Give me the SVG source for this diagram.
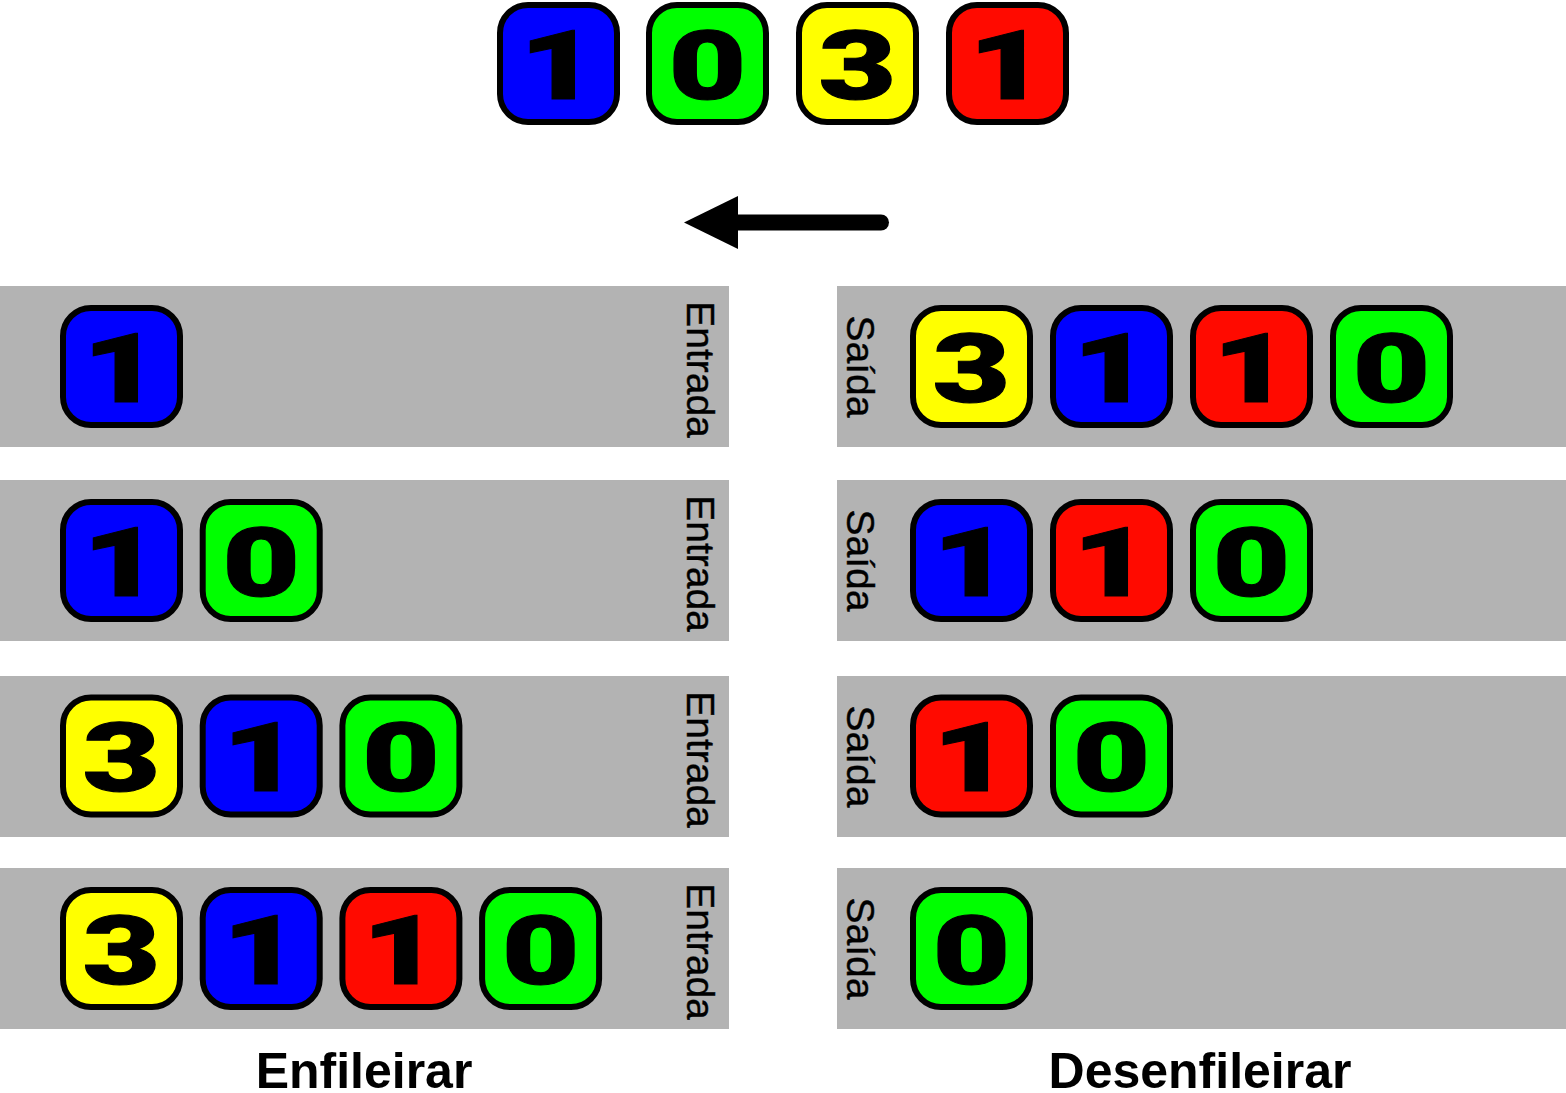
<svg xmlns="http://www.w3.org/2000/svg" width="1566" height="1093" viewBox="0 0 1566 1093">
<defs>
<style>
.band{fill:#b3b3b3}
.t{stroke:#000;stroke-width:6}
.b{fill:#0000ff}.g{fill:#00ff00}.y{fill:#ffff00}.r{fill:#ff0a00}
.d{font-family:Roboto,"Liberation Sans",Arial,sans-serif;font-weight:900;font-size:96px;text-anchor:middle;fill:#000;stroke:#000;stroke-width:1}
.lbl{font-family:"Liberation Sans",Arial,sans-serif;font-size:39px;text-anchor:middle;fill:#000;stroke:#000;stroke-width:0.4}
.cap{font-family:"Liberation Sans",Arial,sans-serif;font-weight:bold;font-size:50px;text-anchor:middle;fill:#000}
</style>
<g id="t1b"><rect class="t b" x="3" y="3" width="117" height="117" rx="28"/><text class="d" transform="translate(61.5,96.5) scale(1.4,1)">1</text></g>
<g id="t1r"><rect class="t r" x="3" y="3" width="117" height="117" rx="28"/><text class="d" transform="translate(61.5,96.5) scale(1.4,1)">1</text></g>
<g id="t0g"><rect class="t g" x="3" y="3" width="117" height="117" rx="28"/><text class="d" transform="translate(61.5,96.5) scale(1.4,1)">0</text></g>
<g id="t3y"><rect class="t y" x="3" y="3" width="117" height="117" rx="28"/><text class="d" transform="translate(61.5,96.5) scale(1.4,1)">3</text></g>
</defs>
<rect width="1566" height="1093" fill="#fff"/>

<g id="top-sequence">
<use href="#t1b" x="497" y="2"/>
<use href="#t0g" x="646" y="2"/>
<use href="#t3y" x="796" y="2"/>
<use href="#t1r" x="946" y="2"/>
</g>

<g id="connectors">
<line x1="738" y1="222.5" x2="881" y2="222.5" stroke="#000" stroke-width="16" stroke-linecap="round"/>
<polygon points="684,222.5 738,196 738,249" fill="#000"/>
</g>

<g id="enq-row1">
<rect class="band" x="0" y="286" width="729" height="161"/>
<use href="#t1b" x="60" y="305"/>
<text class="lbl" transform="translate(687,369.5) rotate(90)">Entrada</text>
</g>
<g id="enq-row2">
<rect class="band" x="0" y="480" width="729" height="161"/>
<use href="#t1b" x="60" y="499"/>
<use href="#t0g" x="199.7" y="499"/>
<text class="lbl" transform="translate(687,563.5) rotate(90)">Entrada</text>
</g>
<g id="enq-row3">
<rect class="band" x="0" y="676" width="729" height="161"/>
<use href="#t3y" x="60" y="694.5"/>
<use href="#t1b" x="199.7" y="694.5"/>
<use href="#t0g" x="339.4" y="694.5"/>
<text class="lbl" transform="translate(687,759.5) rotate(90)">Entrada</text>
</g>
<g id="enq-row4">
<rect class="band" x="0" y="868" width="729" height="161"/>
<use href="#t3y" x="60" y="887"/>
<use href="#t1b" x="199.7" y="887"/>
<use href="#t1r" x="339.4" y="887"/>
<use href="#t0g" x="479.1" y="887"/>
<text class="lbl" transform="translate(687,951.5) rotate(90)">Entrada</text>
</g>

<g id="deq-row1">
<rect class="band" x="837" y="286" width="729" height="161"/>
<text class="lbl" transform="translate(847,366.5) rotate(90)">Saída</text>
<use href="#t3y" x="910" y="305"/>
<use href="#t1b" x="1050" y="305"/>
<use href="#t1r" x="1190" y="305"/>
<use href="#t0g" x="1330" y="305"/>
</g>
<g id="deq-row2">
<rect class="band" x="837" y="480" width="729" height="161"/>
<text class="lbl" transform="translate(847,560.5) rotate(90)">Saída</text>
<use href="#t1b" x="910" y="499"/>
<use href="#t1r" x="1050" y="499"/>
<use href="#t0g" x="1190" y="499"/>
</g>
<g id="deq-row3">
<rect class="band" x="837" y="676" width="729" height="161"/>
<text class="lbl" transform="translate(847,756.5) rotate(90)">Saída</text>
<use href="#t1r" x="910" y="694.5"/>
<use href="#t0g" x="1050" y="694.5"/>
</g>
<g id="deq-row4">
<rect class="band" x="837" y="868" width="729" height="161"/>
<text class="lbl" transform="translate(847,948.5) rotate(90)">Saída</text>
<use href="#t0g" x="910" y="887"/>
</g>

<g id="captions">
<text class="cap" x="364" y="1088">Enfileirar</text>
<text class="cap" x="1200" y="1088">Desenfileirar</text>
</g>
</svg>
